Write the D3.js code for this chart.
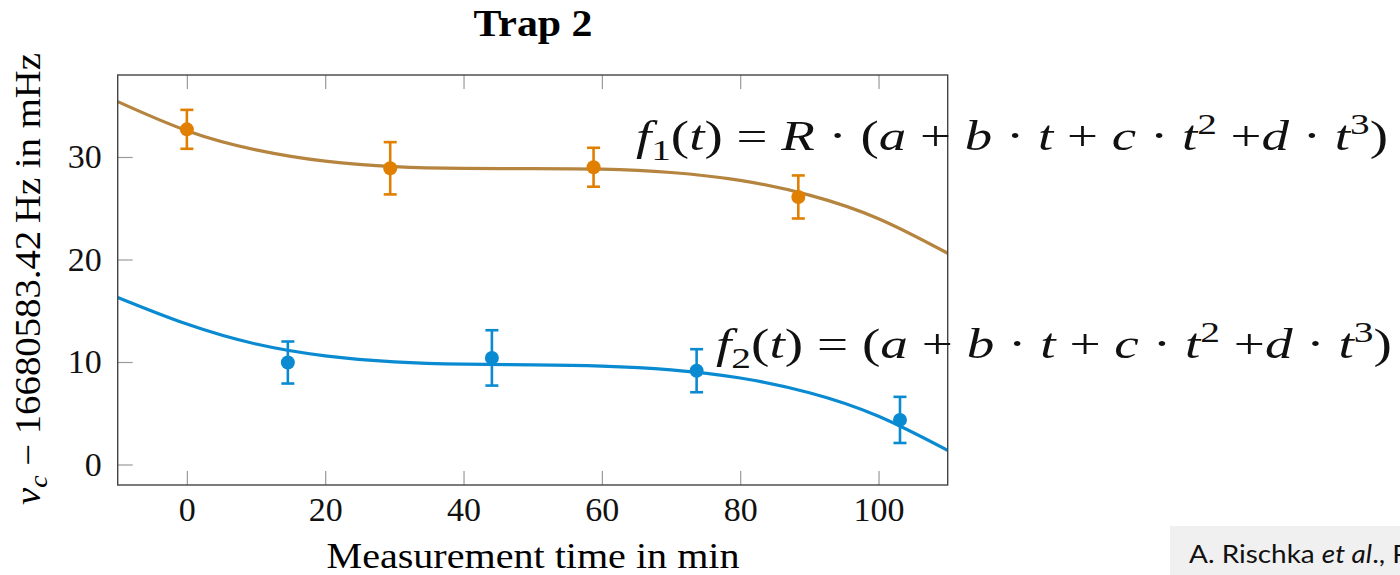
<!DOCTYPE html>
<html>
<head>
<meta charset="utf-8">
<script src="https://cdn.jsdelivr.net/npm/d3@7"></script>
<style>
  body { margin: 0; background: #fff; }
  svg { display: block; }
</style>
</head>
<body>
<svg id="chart"></svg>
<script>
// chart data
var tickX = [0, 20, 40, 60, 80, 100];
var tickY = [0, 10, 20, 30];

// measured points, orange series (R-scaled)
var time1 = [0, 29.4, 58.8, 88.4];
var nu1 = [32.7, 28.9, 29.0, 26.1];
var err1 = [1.9, 2.55, 1.9, 2.1];

// measured points, blue series
var time2 = [14.6, 44.1, 73.7, 103.1];
var nu2 = [9.95, 10.4, 9.15, 4.35];
var err2 = [2.05, 2.7, 2.1, 2.25];

// fitted curves, every 10 min
var fitTime = [-10, 0, 10, 20, 30, 40, 50, 60, 70, 80, 90, 100, 110];
var fit1 = [35.4, 32.57, 30.7, 29.6, 29.06, 28.89, 28.87, 28.81, 28.49, 27.72, 26.28, 23.98, 20.61];
var fit2 = [16.3, 13.7, 11.75, 10.6, 10.02, 9.79, 9.72, 9.6, 9.24, 8.44, 7.0, 4.71, 1.38];

var width = 1400, height = 575;
var svg = d3.select("#chart").attr("width", width).attr("height", height);

var serif = "'Liberation Serif', 'DejaVu Serif', serif";
var orange = "#e07f00", brown = "#b5843f", blue = "#0a8bd1";

var plot = { left: 117.7, right: 947.7, top: 75, bottom: 485 };

var x = d3.scaleLinear().domain([-10, 110]).range([plot.left, plot.right]);
var y = d3.scaleLinear().domain([-2, 38]).range([plot.bottom, plot.top]);

// axes, ticks point inwards
function styleAxis(g) {
	g.select(".domain").remove();
	g.selectAll(".tick line").attr("stroke", "#9a9a9a").attr("stroke-width", 1.2);
	g.selectAll(".tick text").attr("fill", "#111").style("font-family", serif).style("font-size", "34px");
}

svg.append("g")
	.attr("transform", "translate(0," + plot.bottom + ")")
	.call(d3.axisBottom(x).tickValues(tickX).tickSize(-14).tickPadding(12))
	.call(styleAxis);

svg.append("g")
	.attr("transform", "translate(0," + plot.top + ")")
	.call(d3.axisTop(x).tickValues(tickX).tickSize(-14).tickFormat(""))
	.call(styleAxis);

svg.append("g")
	.attr("transform", "translate(" + plot.left + ",0)")
	.call(d3.axisLeft(y).tickValues(tickY).tickSize(-15).tickPadding(16))
	.call(styleAxis);

// fit lines
var line = d3.line()
	.x(function (d) { return x(d[0]); })
	.y(function (d) { return y(d[1]); })
	.curve(d3.curveNatural);

svg.append("clipPath").attr("id", "plotClip")
	.append("rect")
	.attr("x", plot.left).attr("y", plot.top)
	.attr("width", plot.right - plot.left).attr("height", plot.bottom - plot.top);

svg.append("path")
	.datum(d3.zip(fitTime, fit1))
	.attr("d", line)
	.attr("clip-path", "url(#plotClip)")
	.attr("fill", "none").attr("stroke", brown).attr("stroke-width", 3.2);

svg.append("path")
	.datum(d3.zip(fitTime, fit2))
	.attr("d", line)
	.attr("clip-path", "url(#plotClip)")
	.attr("fill", "none").attr("stroke", blue).attr("stroke-width", 3.2);

// points with error bars
function drawSeries(ts, vs, es, color) {
	var g = svg.append("g");
	var pts = d3.range(ts.length).map(function (i) { return { t: ts[i], v: vs[i], e: es[i] }; });
	var bars = g.selectAll("g.bar").data(pts).enter().append("g").attr("class", "bar")
		.attr("stroke", color).attr("stroke-width", 2.6);
	bars.append("line")
		.attr("x1", function (d) { return x(d.t); }).attr("x2", function (d) { return x(d.t); })
		.attr("y1", function (d) { return y(d.v - d.e); }).attr("y2", function (d) { return y(d.v + d.e); });
	bars.append("line")
		.attr("x1", function (d) { return x(d.t) - 6.5; }).attr("x2", function (d) { return x(d.t) + 6.5; })
		.attr("y1", function (d) { return y(d.v + d.e); }).attr("y2", function (d) { return y(d.v + d.e); });
	bars.append("line")
		.attr("x1", function (d) { return x(d.t) - 6.5; }).attr("x2", function (d) { return x(d.t) + 6.5; })
		.attr("y1", function (d) { return y(d.v - d.e); }).attr("y2", function (d) { return y(d.v - d.e); });
	g.selectAll("circle").data(pts).enter().append("circle")
		.attr("cx", function (d) { return x(d.t); })
		.attr("cy", function (d) { return y(d.v); })
		.attr("r", 7)
		.attr("fill", color);
}
drawSeries(time1, nu1, err1, orange);
drawSeries(time2, nu2, err2, blue);

// plot frame
svg.append("rect")
	.attr("x", plot.left).attr("y", plot.top)
	.attr("width", plot.right - plot.left).attr("height", plot.bottom - plot.top)
	.attr("fill", "none").attr("stroke", "#444").attr("stroke-width", 1.4);

// title and axis labels
svg.append("text")
	.attr("x", 533).attr("y", 36)
	.attr("text-anchor", "middle")
	.attr("textLength", 119).attr("lengthAdjust", "spacingAndGlyphs")
	.style("font-family", serif).style("font-size", "37px").style("font-weight", "bold")
	.text("Trap 2");

svg.append("text")
	.attr("x", 533).attr("y", 568)
	.attr("text-anchor", "middle")
	.attr("textLength", 413).attr("lengthAdjust", "spacingAndGlyphs")
	.style("font-family", serif).style("font-size", "35px")
	.text("Measurement time in min");

var ylab = svg.append("text")
	.attr("transform", "translate(40,279) rotate(-90)")
	.attr("text-anchor", "middle")
	.attr("textLength", 452).attr("lengthAdjust", "spacingAndGlyphs")
	.style("font-family", serif).style("font-size", "35px");
ylab.append("tspan").style("font-style", "italic").text("ν");
ylab.append("tspan").attr("dy", 7).style("font-size", "25px").style("font-style", "italic").text("c");
ylab.append("tspan").attr("dy", -7).text(" − 16680583.42\u2009Hz in  mHz");

// formulas written over the chart
function formula(xPos, yPos, len, parts) {
	var t = svg.append("text")
		.attr("x", xPos).attr("y", yPos)
		.attr("textLength", len).attr("lengthAdjust", "spacingAndGlyphs")
		.style("font-family", serif).style("font-size", "42px").attr("fill", "#111");
	var shift = 0;
	parts.forEach(function (p) {
		var dy = (p.sub ? 10 : p.sup ? -16 : 0) - shift;
		shift += dy;
		t.append("tspan")
			.attr("dy", dy)
			.style("font-style", p.it ? "italic" : "normal")
			.style("font-size", (p.sub || p.sup) ? "30px" : "42px")
			.text(p.s);
	});
}

formula(636, 150, 752, [
	{ s: "f", it: true }, { s: "1", sub: true }, { s: "(" }, { s: "t", it: true }, { s: ") = " },
	{ s: "R", it: true }, { s: " · (" }, { s: "a", it: true }, { s: " + " }, { s: "b", it: true },
	{ s: " · " }, { s: "t", it: true }, { s: " + " }, { s: "c", it: true }, { s: " · " },
	{ s: "t", it: true }, { s: "2", sup: true }, { s: " +" }, { s: "d", it: true }, { s: " · " },
	{ s: "t", it: true }, { s: "3", sup: true }, { s: ")" }
]);

formula(716, 358, 676, [
	{ s: "f", it: true }, { s: "2", sub: true }, { s: "(" }, { s: "t", it: true }, { s: ") = (" },
	{ s: "a", it: true }, { s: " + " }, { s: "b", it: true },
	{ s: " · " }, { s: "t", it: true }, { s: " + " }, { s: "c", it: true }, { s: " · " },
	{ s: "t", it: true }, { s: "2", sup: true }, { s: " +" }, { s: "d", it: true }, { s: " · " },
	{ s: "t", it: true }, { s: "3", sup: true }, { s: ")" }
]);

// citation box, cut by the page edge as in the slide
svg.append("rect")
	.attr("x", 1170).attr("y", 526).attr("width", 240).attr("height", 60)
	.attr("fill", "#f0f0f0");
var cite = svg.append("text")
	.attr("x", 1189).attr("y", 563)
	.attr("textLength", 220).attr("lengthAdjust", "spacingAndGlyphs")
	.style("font-family", "Lato, 'Open Sans', sans-serif").style("font-size", "25px").attr("fill", "#111");
cite.append("tspan").text("A. Rischka ");
cite.append("tspan").style("font-style", "italic").text("et al");
cite.append("tspan").text("., P");
</script>
</body>
</html>
